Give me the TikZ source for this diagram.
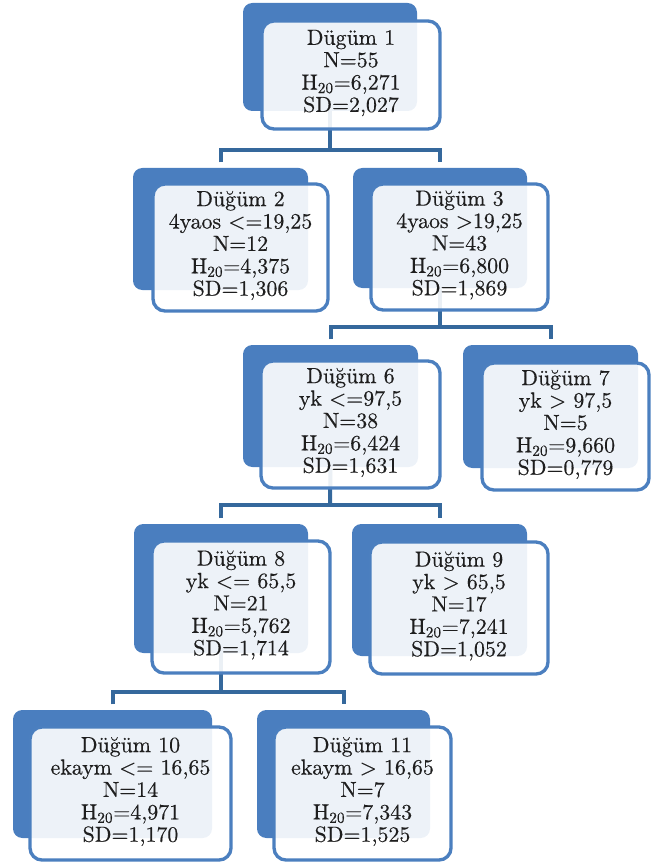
\documentclass[tikz,border=0pt]{standalone}
\usepackage{fontspec}
\setmainfont{lmroman10-regular.otf}[FakeBold=0.4]
\usetikzlibrary{fit,calc}
\definecolor{backblue}{HTML}{4A7EBF}
\definecolor{frontblue}{HTML}{4B7FBF}
\definecolor{connblue}{HTML}{35689C}
\definecolor{txtcol}{HTML}{1E1E1E}
\pgfdeclarelayer{bg}
\pgfsetlayers{bg,main}
\tikzset{
  backbox/.style={fill=backblue, draw=none, rounded corners=7pt, inner sep=0pt},
  frontbox/.style={fill=white, fill opacity=0.9, draw=frontblue, line width=2.5pt, rounded corners=9pt, inner sep=0pt},
  txtbox/.style={align=center, font=\fontsize{16.4}{16.8}\selectfont\bfseries, inner sep=0pt, text=txtcol},
  conn/.style={draw=connblue, line width=3pt}
}
\newcommand{\Hsub}[1]{H\textsubscript{20}=#1}
\begin{document}
\begin{tikzpicture}[x=0.75pt,y=-0.75pt]
\useasboundingbox (0,0) rectangle (652,866);
% Node 1
\node[backbox, fit={(243,3)(417,111)}] (b1) {};
\node[frontbox, fit={(262,21)(440,129)}] (f1) {};
\node[txtbox] (t1) at ($(f1.center)+(0,-2)$) {Dügüm 1\\N=55\\\Hsub{6,271}\\SD=2,027};
% Node 2
\node[backbox, fit={(133,168)(308,290)}] (b2) {};
\node[frontbox, fit={(153,184)(328,311)}] (f2) {};
\node[txtbox] (t2) at ($(f2.center)+(0,-2)$) {Düğüm 2\\4yaos <=19,25\\N=12\\\Hsub{4,375}\\SD=1,306};
% Node 3
\node[backbox, fit={(353,168)(527,288)}] (b3) {};
\node[frontbox, fit={(371,184)(548,310)}] (f3) {};
\node[txtbox] (t3) at ($(f3.center)+(0,-2)$) {Düğüm 3\\4yaos >19,25\\N=43\\\Hsub{6,800}\\SD=1,869};
% Node 6
\node[backbox, fit={(243,345)(418,467)}] (b6) {};
\node[frontbox, fit={(261,361)(440,488)}] (f6) {};
\node[txtbox] (t6) at ($(f6.center)+(0,-2)$) {Düğüm 6\\yk <=97,5\\N=38\\\Hsub{6,424}\\SD=1,631};
% Node 7
\node[backbox, fit={(463,345)(638,468)}] (b7) {};
\node[frontbox, fit={(482,363)(649,490)}] (f7) {};
\node[txtbox] (t7) at ($(f7.center)+(0,-2)$) {Düğüm 7\\yk > 97,5\\N=5\\\Hsub{9,660}\\SD=0,779};
% Node 8
\node[backbox, fit={(134,524)(308,653)}] (b8) {};
\node[frontbox, fit={(152,541)(330,673)}] (f8) {};
\node[txtbox] (t8) at ($(f8.center)+(0,-2)$) {Düğüm 8\\yk <= 65,5\\N=21\\\Hsub{5,762}\\SD=1,714};
% Node 9
\node[backbox, fit={(352,524)(527,656)}] (b9) {};
\node[frontbox, fit={(370,542)(548,674)}] (f9) {};
\node[txtbox] (t9) at ($(f9.center)+(0,-2)$) {Düğüm 9\\yk > 65,5\\N=17\\\Hsub{7,241}\\SD=1,052};
% Node 10
\node[backbox, fit={(13,710)(212,838)}] (b10) {};
\node[frontbox, fit={(30,727)(231,860)}] (f10) {};
\node[txtbox] (t10) at ($(f10.center)+(0,-2)$) {Düğüm 10\\ekaym <= 16,65\\N=14\\\Hsub{4,971}\\SD=1,170};
% Node 11
\node[backbox, fit={(257,710)(430,838)}] (b11) {};
\node[frontbox, fit={(274,727)(451,860)}] (f11) {};
\node[txtbox] (t11) at ($(f11.center)+(0,-2)$) {Düğüm 11\\ekaym > 16,65\\N=7\\\Hsub{7,343}\\SD=1,525};
% junctions
\coordinate (j1) at (330,150);
\coordinate (j2) at (440,327);
\coordinate (j3) at (330,505);
\coordinate (j4) at (221,692);
\begin{pgfonlayer}{bg}
\draw[conn] (b1.south) -- (j1);
\draw[conn] ([yshift=4pt]b2.north) |- (j1) -| ([yshift=4pt]b3.north);
\draw[conn] (b3.south) -- (j2);
\draw[conn] ([yshift=4pt]b6.north) |- (j2) -| ([yshift=4pt]b7.north);
\draw[conn] (b6.south) -- (j3);
\draw[conn] ([yshift=4pt]b8.north) |- (j3) -| ([yshift=4pt]b9.north);
\draw[conn] (b8.south) -- (j4);
\draw[conn] ([yshift=4pt]b10.north) |- (j4) -| ([yshift=4pt]b11.north);
\end{pgfonlayer}
\end{tikzpicture}
\end{document}
